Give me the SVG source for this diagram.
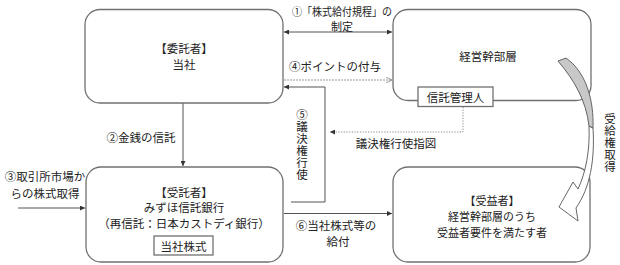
<svg xmlns="http://www.w3.org/2000/svg" width="620" height="265" viewBox="0 0 620 265">
<defs>
<style>
text{font-family:"Noto Sans CJK JP","Noto Sans",sans-serif;font-size:11.5px;fill:#222;text-anchor:middle;dominant-baseline:central}
.vt{writing-mode:vertical-rl;text-orientation:upright;text-anchor:start;letter-spacing:0.5px}
.s{font-size:11px}
.box{fill:#fff;stroke:#707070;stroke-width:1.3}
.ln{fill:none;stroke:#555;stroke-width:1}
.dash{fill:none;stroke:#999;stroke-width:1;stroke-dasharray:2 1}
.dot{fill:none;stroke:#888;stroke-width:1;stroke-dasharray:1.2 1.5}
</style>
<marker id="ah" viewBox="0 0 6 6" refX="6" refY="3" markerWidth="5" markerHeight="5" orient="auto-start-reverse" markerUnits="userSpaceOnUse">
<path d="M0,0 L6,3 L0,6 Z" fill="#333"/>
</marker>
<marker id="ao" viewBox="0 0 8 8" refX="7.5" refY="4" markerWidth="7" markerHeight="7" orient="auto" markerUnits="userSpaceOnUse">
<path d="M1,1 L7.5,4 L1,7" fill="none" stroke="#888" stroke-width="1"/>
</marker>
</defs>

<g id="connectors">
<line class="ln" x1="284" y1="32" x2="392" y2="32" marker-start="url(#ah)" marker-end="url(#ah)"/>
<line class="dash" x1="284" y1="80" x2="392" y2="80" marker-end="url(#ao)"/>
<polyline class="ln" points="291,202 325,202 325,87 284,87" marker-end="url(#ah)"/>
<polyline class="dot" points="463,107 463,132 330,132" marker-end="url(#ah)"/>
<line class="ln" x1="183" y1="103" x2="183" y2="166" marker-end="url(#ah)"/>
<line class="ln" x1="18" y1="208" x2="85" y2="208" marker-end="url(#ah)"/>
<line class="ln" x1="284" y1="213.5" x2="392" y2="213.5" marker-end="url(#ah)"/>
<text class="s" x="342" y="10.5" textLength="100" lengthAdjust="spacingAndGlyphs">①「株式給付規程」の</text>
<text class="s" x="342" y="26">制定</text>
<text x="335" y="66">④ポイントの付与</text>
<text class="vt" x="302" y="109">⑤議決権行使</text>
<text x="396" y="143">議決権行使指図</text>
<text x="141" y="137">②金銭の信託</text>
<text x="45" y="176">③取引所市場か</text>
<text x="45" y="193">らの株式取得</text>
<text x="336" y="225">⑥当社株式等の</text>
<text x="338" y="241">給付</text>
<text class="vt" x="610" y="113">受給権取得</text>
</g>

<g id="itakusha">
<rect class="box" x="85" y="9.5" width="198" height="93.5" rx="15"/>
<text x="184" y="48">【委託者】</text>
<text x="184" y="64">当社</text>
</g>

<g id="keiei">
<rect class="box" x="393" y="9.5" width="198" height="91" rx="15"/>
<text x="488" y="56">経営幹部層</text>
</g>

<g id="shintaku-kanrinin">
<rect class="box" x="418" y="87" width="75" height="19.5" rx="0"/>
<text x="455.5" y="97">信託管理人</text>
</g>

<g id="jutakusha">
<rect class="box" x="86" y="167" width="197" height="95" rx="15"/>
<text x="184" y="191.5">【受託者】</text>
<text x="184" y="207">みずほ信託銀行</text>
<text x="184" y="223">（再信託：日本カストディ銀行）</text>
<rect class="box" x="154" y="236" width="59" height="19" rx="0"/>
<text x="183.5" y="245.5">当社株式</text>
</g>

<g id="juekisha">
<rect class="box" x="393" y="167" width="197" height="95" rx="15"/>
<text class="s" x="492" y="200">【受益者】</text>
<text class="s" x="492" y="216">経営幹部層のうち</text>
<text class="s" x="492" y="232">受益者要件を満たす者</text>
</g>

<g id="curved-arrow">
<path d="M593,128 C595,160 590,188 576,208 L578,221 L559,207 L573,182 L578,189 C586,172 590,150 589,126 Z" fill="#fff" stroke="#555" stroke-width="0.9"/>
<path d="M558,61 L566,58 C586,72 594,100 593,128 L589,126 C586,100 574,80 558,61 Z" fill="#c8c8c8" stroke="#555" stroke-width="0.9"/>
</g>
</svg>
